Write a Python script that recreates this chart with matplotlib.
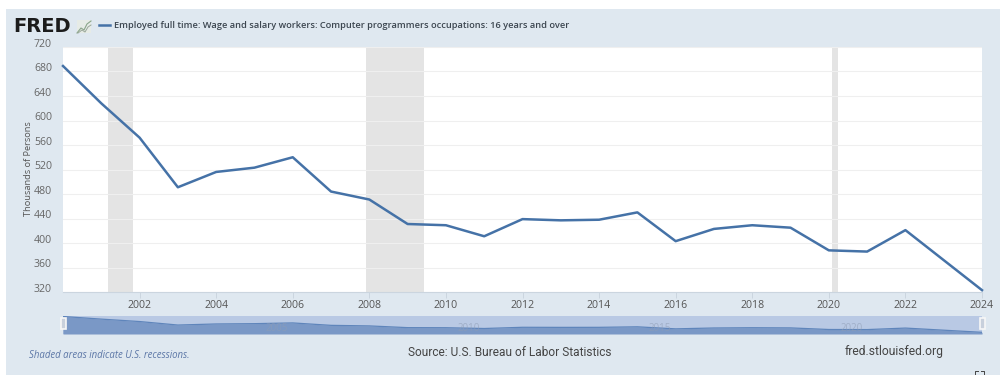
import numpy as np
import matplotlib
matplotlib.use("Agg")
import matplotlib.pyplot as plt
from matplotlib.patches import Rectangle

W, H = 1000, 375
BG = "#dfe8f0"
LINE = "#4572a7"

years = [2000, 2001, 2002, 2003, 2004, 2005, 2006, 2007, 2008, 2009, 2010, 2011,
         2012, 2013, 2014, 2015, 2016, 2017, 2018, 2019, 2020, 2021, 2022, 2023, 2024]
employed = [689, 628, 572, 491, 516, 523, 540, 484, 471, 431, 429, 411,
            439, 437, 438, 450, 403, 423, 429, 425, 388, 386, 421, 372, 323]
recessions = [(2001.17, 2001.83), (2007.92, 2009.42), (2020.08, 2020.25)]
y_ticks = [320, 360, 400, 440, 480, 520, 560, 600, 640, 680, 720]
x_ticks = [2002, 2004, 2006, 2008, 2010, 2012, 2014, 2016, 2018, 2020, 2022, 2024]
nav_labels = [2005, 2010, 2015, 2020]

TITLE = "Employed full time: Wage and salary workers: Computer programmers occupations: 16 years and over"


def px_axes(fig, x0, y0, x1, y1):
    # axes from pixel box, y measured from the top of the image
    return fig.add_axes([x0 / W, 1 - y1 / H, (x1 - x0) / W, (y1 - y0) / H])


def px_line(fig, xs, ys, **kw):
    fig.add_artist(plt.Line2D(np.array(xs) / W, 1 - np.array(ys) / H, **kw))


def px_rect(fig, x0, y0, x1, y1, **kw):
    fig.patches.append(Rectangle((x0 / W, 1 - y1 / H), (x1 - x0) / W, (y1 - y0) / H,
                                 transform=fig.transFigure, **kw))


plt.rcParams["font.family"] = ["Open Sans", "DejaVu Sans"]
fig = plt.figure(figsize=(W / 100, H / 100), dpi=100, facecolor="white")
px_rect(fig, 6, 9, W, H, facecolor=BG, edgecolor="none", zorder=-1)

# main chart
ax = px_axes(fig, 63, 47, 982, 292)
ax.set_facecolor("white")
for a, b in recessions:
    ax.axvspan(a, b, color="#e4e4e4", lw=0, zorder=1)
ax.plot(years, employed, color=LINE, lw=1.8, zorder=3, clip_on=False)
ax.set_xlim(2000, 2024)
ax.set_ylim(320, 720)
ax.set_yticks(y_ticks)
ax.set_yticklabels([])
ax.tick_params(axis="y", length=0)
ax.grid(axis="y", color="#efefef", lw=0.8, zorder=0)
ax.set_xticks(x_ticks)
ax.set_xticklabels([str(v) for v in x_ticks], fontsize=7.6, color="#555555")
ax.tick_params(axis="x", length=4, width=0.7, color="#cbd5df", pad=1.5)
for s in ["top", "left", "right"]:
    ax.spines[s].set_visible(False)
ax.spines["bottom"].set_color("#cbd5df")
# y labels sit above their gridlines in the original
for v in y_ticks:
    ax.annotate(str(v), (0, v), xycoords=("axes fraction", "data"), xytext=(-8, 2),
                textcoords="offset points", ha="right", va="center", fontsize=7.6, color="#666666")
fig.text(29 / W, 1 - 169 / H, "Thousands of Persons", rotation=90, ha="center", va="center",
         fontsize=6.7, color="#555555")

# range selector below the chart
nav = px_axes(fig, 63, 316, 982, 334)
nav.set_facecolor("#b9c9e4")
nav.fill_between(years, employed, 284, color="#7a98c6", lw=0, zorder=2)
nav.plot(years, employed, color="#5f85bb", lw=0.9, zorder=3)
nav.set_xlim(2000, 2024)
nav.set_ylim(284, 700)
nav.set_xticks([])
nav.set_yticks([])
for s in nav.spines.values():
    s.set_visible(False)
for v in nav_labels:
    nav.text(v + 0.3, 0.02, str(v), transform=nav.get_xaxis_transform(), ha="left", va="bottom",
             fontsize=7, color="#8f9db5", alpha=0.6, zorder=4)
for px in (63, 982):
    px_rect(fig, px - 2.5, 318, px + 2.5, 329, facecolor="#c8d0dc", edgecolor="#f7f7f7", lw=1.2, zorder=5)

# header
fig.text(13 / W, 1 - 26 / H, "FRED", fontsize=14, fontweight="bold", color="#1c1c1c",
         ha="left", va="center", family=["DejaVu Sans"])
px_rect(fig, 77, 20, 91, 33, facecolor="#e6ebe6", edgecolor="none", zorder=1)
px_line(fig, [77, 81, 84, 87, 91], [33, 28, 30, 24, 21], color="#8aa58a", lw=0.8)
px_line(fig, [78, 82, 85, 88, 91], [33, 30, 32, 27, 25], color="#9aa79a", lw=0.7)
px_line(fig, [99, 110], [25, 25], color=LINE, lw=1.8)
fig.text(114 / W, 1 - 26 / H, TITLE, fontsize=6.7, fontweight="semibold", color="#3c4650",
         ha="left", va="center")

# footer
fig.text(29 / W, 1 - 355.5 / H, "Shaded areas indicate U.S. recessions.", fontsize=6.9, style="italic",
         color="#5b76a6", ha="left", va="center")
fig.text(509.5 / W, 1 - 352 / H, "Source: U.S. Bureau of Labor Statistics", fontsize=8.6, color="#444444",
         ha="center", va="center", family=["Roboto", "DejaVu Sans"])
fig.text(894 / W, 1 - 352 / H, "fred.stlouisfed.org", fontsize=8.7, color="#444444",
         ha="center", va="center", family=["Roboto", "DejaVu Sans"])
# fullscreen corner marks
px_line(fig, [975, 975, 978], [374, 371, 371], color="#444444", lw=0.7)
px_line(fig, [981, 984, 984], [371, 371, 374], color="#444444", lw=0.7)

fig.savefig("out.png", dpi=100)
